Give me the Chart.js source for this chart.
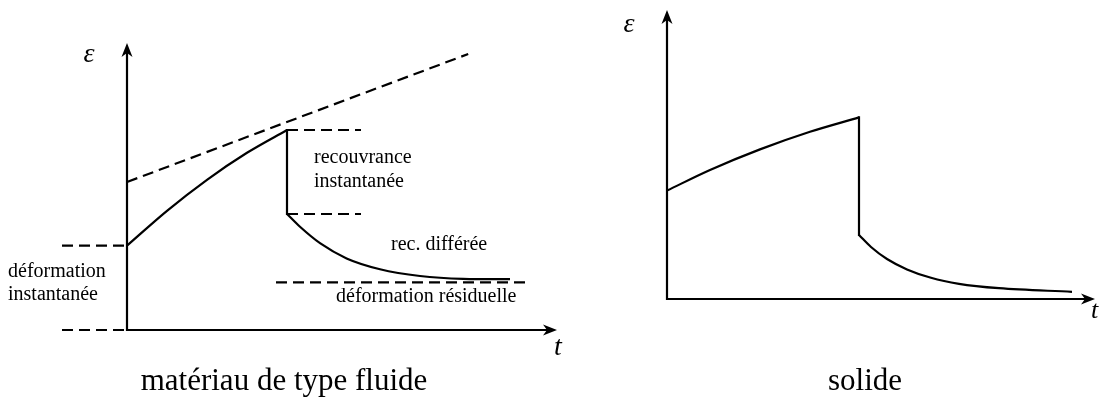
<!DOCTYPE html>
<html lang="fr">
<head>
<meta charset="utf-8">
<script src="https://cdn.jsdelivr.net/npm/chart.js@4.4.1/dist/chart.umd.min.js"></script>
<style>
  html, body { margin: 0; padding: 0; background: #fff; }
  #wrap { position: relative; width: 1102px; height: 397px; overflow: hidden; background: #fff; }
  canvas { position: absolute; top: 0; }
  #fluid { left: 0; }
  #solid { left: 590px; }
</style>
</head>
<body>
<div id="wrap">
  <canvas id="fluid" width="590" height="397"></canvas>
  <canvas id="solid" width="512" height="397"></canvas>
</div>
<script>
// Fluid-type material: creep under load, instant + delayed recovery, residual strain.
const fluidLoadT = [0, 1, 2, 3, 4];
const fluidLoadEps = [2.11, 2.98, 3.755, 4.43, 5.0];
const fluidDropT = [4, 4];
const fluidDropEps = [5.0, 2.9];
const fluidDecayT = [4, 4.325, 4.825, 5.49, 6.325, 7.325, 8.4, 9.575];
const fluidDecayEps = [2.9, 2.58, 2.17, 1.79, 1.52, 1.35, 1.28, 1.27];
const fluidCreepT = [0, 8.53];
const fluidCreepEps = [3.7, 6.9];
// horizontal dashed guides: [t start, t end], level
const fluidGuideT = [[-1.625, 0], [-1.625, 0], [4, 5.85], [4, 5.85], [3.725, 10.025]];
const fluidGuideEps = [2.11, 0, 5.0, 2.9, 1.19];

// Solid: same loading history, full recovery.
const solidLoadT = [0, 1.075, 2.325, 3.575, 4.8];
const solidLoadEps = [2.71, 3.225, 3.74, 4.18, 4.54];
const solidDropT = [4.8, 4.8];
const solidDropEps = [4.54, 1.6];
const solidDecayT = [4.8, 5.1, 5.5, 6.0, 6.6, 7.3, 8.3, 10.125];
const solidDecayEps = [1.6, 1.3, 1.0, 0.74, 0.53, 0.38, 0.27, 0.18];

const fluidTexts = ['déformation', 'instantanée', 'recouvrance', 'instantanée', 'rec. différée', 'déformation résiduelle'];
const axisLabels = ['ε', 't'];
const captions = ['matériau de type fluide', 'solide'];

const LABEL_FONT = '20px "Liberation Serif", serif';
const CAPTION_FONT = '31px "Liberation Serif", serif';
const EPS_FONT = 'italic 28px "Liberation Serif", serif';
const LW = 2.2;

function arrow(ctx, x, y, ang) {
  ctx.save();
  ctx.translate(x, y);
  ctx.rotate(ang);
  ctx.beginPath();
  ctx.moveTo(0, 0);
  ctx.lineTo(-14, -5.5);
  ctx.lineTo(-10, 0);
  ctx.lineTo(-14, 5.5);
  ctx.closePath();
  ctx.fill();
  ctx.restore();
}

// draws the arrowed axes and every piece of text, positioned in data units
const sketchPlugin = {
  id: 'sketch',
  afterDatasetsDraw(chart, args, opts) {
    const { ctx, scales: { x, y } } = chart;
    ctx.save();
    ctx.strokeStyle = '#000';
    ctx.fillStyle = '#000';
    ctx.lineWidth = LW;
    ctx.setLineDash([]);
    const ox = x.getPixelForValue(0), oy = y.getPixelForValue(0);
    const tx = x.getPixelForValue(x.max), ty = y.getPixelForValue(y.max);
    ctx.beginPath();
    ctx.moveTo(tx - 10, oy);
    ctx.lineTo(ox, oy);
    ctx.lineTo(ox, ty + 10);
    ctx.stroke();
    arrow(ctx, tx, oy, 0);
    arrow(ctx, ox, ty, -Math.PI / 2);
    (opts.texts || []).forEach(t => {
      ctx.font = t.font;
      ctx.textAlign = t.align || 'left';
      ctx.textBaseline = t.baseline || 'alphabetic';
      ctx.fillText(t.text, x.getPixelForValue(t.at[0]), y.getPixelForValue(t.at[1]));
    });
    ctx.restore();
  }
};

function line(ts, es, extra) {
  return Object.assign({
    data: ts.map((t, i) => ({ x: t, y: es[i] })),
    showLine: true, borderColor: '#000', borderWidth: LW, pointRadius: 0,
    fill: false, clip: false, tension: 0, borderCapStyle: 'butt', borderJoinStyle: 'miter',
  }, extra || {});
}
const dashed = { borderDash: [11, 6] };
const smooth = { cubicInterpolationMode: 'monotone' };

function sketchOptions(xr, yr, pad, texts) {
  return {
    responsive: false, animation: false, events: [],
    layout: { padding: pad },
    plugins: { legend: { display: false }, tooltip: { enabled: false }, sketch: { texts } },
    scales: {
      x: { type: 'linear', display: false, min: xr[0], max: xr[1] },
      y: { type: 'linear', display: false, min: yr[0], max: yr[1] },
    },
  };
}

const fluidSets = [
  line(fluidCreepT, fluidCreepEps, dashed),
  ...fluidGuideT.map((ts, i) => line(ts, [fluidGuideEps[i], fluidGuideEps[i]], dashed)),
  line(fluidLoadT, fluidLoadEps, smooth),
  line(fluidDropT, fluidDropEps, { borderCapStyle: 'square' }),
  line(fluidDecayT, fluidDecayEps, smooth),
];

new Chart(document.getElementById('fluid'), {
  type: 'scatter',
  data: { datasets: fluidSets },
  options: sketchOptions([-3.175, 10.75], [0, 7.175], { left: 0, right: 33, top: 43, bottom: 67 }, [
    { text: fluidTexts[0], at: [-2.975, 1.325], font: LABEL_FONT },
    { text: fluidTexts[1], at: [-2.975, 0.75], font: LABEL_FONT },
    { text: fluidTexts[2], at: [4.675, 4.175], font: LABEL_FONT },
    { text: fluidTexts[3], at: [4.675, 3.575], font: LABEL_FONT },
    { text: fluidTexts[4], at: [6.6, 2.0], font: LABEL_FONT },
    { text: fluidTexts[5], at: [5.225, 0.7], font: LABEL_FONT },
    { text: axisLabels[0], at: [-0.95, 6.875], font: EPS_FONT, align: 'center', baseline: 'middle' },
    { text: axisLabels[1], at: [10.675, -0.625], font: 'italic 28px "Liberation Serif", serif' },
    { text: captions[0], at: [3.925, -1.5], font: CAPTION_FONT, align: 'center' },
  ]),
  plugins: [sketchPlugin],
});

new Chart(document.getElementById('solid'), {
  type: 'scatter',
  data: { datasets: [
    line(solidLoadT, solidLoadEps, smooth),
    line(solidDropT, solidDropEps, { borderCapStyle: 'square' }),
    line(solidDecayT, solidDecayEps, smooth),
  ] },
  options: sketchOptions([0, 10.7], [0, 7.225], { left: 77, right: 7, top: 10, bottom: 98 }, [
    { text: axisLabels[0], at: [-0.95, 6.85], font: EPS_FONT, align: 'center', baseline: 'middle' },
    { text: axisLabels[1], at: [10.6, -0.475], font: 'italic 26px "Liberation Serif", serif' },
    { text: captions[1], at: [4.95, -2.275], font: CAPTION_FONT, align: 'center' },
  ]),
  plugins: [sketchPlugin],
});
</script>
</body>
</html>
